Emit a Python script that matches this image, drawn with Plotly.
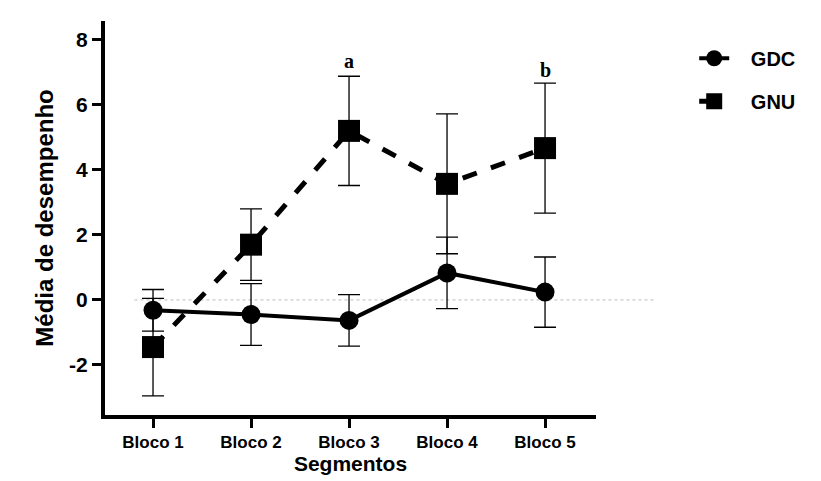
import plotly.graph_objects as go

categories = ["Bloco 1", "Bloco 2", "Bloco 3", "Bloco 4", "Bloco 5"]
x_pos = [1, 2, 3, 4, 5]
gdc_mean = [-0.32, -0.45, -0.63, 0.83, 0.24]
gdc_err = [0.64, 0.95, 0.79, 1.10, 1.08]
gnu_mean = [-1.45, 1.70, 5.20, 3.57, 4.67]
gnu_err = [1.50, 1.10, 1.68, 2.15, 2.00]
sig_labels = [("a", 3, 7.35), ("b", 5, 7.08)]

NB = "\u00a0"
fig = go.Figure()
fig.add_trace(go.Scatter(
    x=x_pos, y=gdc_mean, name=NB * 3 + "<b>GDC</b>", mode="lines+markers",
    legendgroup="gdc",
    line=dict(color="black", width=4),
    marker=dict(symbol="circle", size=19, color="black"),
    error_y=dict(type="data", array=gdc_err, visible=True, color="black", thickness=1.3, width=11),
))
fig.add_trace(go.Scatter(
    x=x_pos, y=gnu_mean, name=NB * 3 + "<b>GNU</b>", mode="lines+markers",
    legendgroup="gnu",
    line=dict(color="black", width=5, dash="dash"),
    marker=dict(symbol="square", size=22, color="black"),
    error_y=dict(type="data", array=gnu_err, visible=True, color="black", thickness=1.3, width=11),
))

for txt, xv, yv in sig_labels:
    fig.add_annotation(x=xv, y=yv, text=f"<b>{txt}</b>", showarrow=False,
                       font=dict(family="Liberation Serif, Times New Roman, serif", size=20, color="black"))

# faint dotted zero line
fig.add_shape(type="line", xref="paper", yref="y", x0=0.06, x1=1.12, y0=0, y1=0,
              line=dict(color="#bbbbbb", width=1, dash="dot"), layer="below")

fig.update_layout(
    width=821, height=481,
    margin=dict(l=97, r=233, t=13, b=74),
    plot_bgcolor="white", paper_bgcolor="white",
    font=dict(family="Liberation Sans, Arial, sans-serif", color="black"),
    showlegend=True,
    legend=dict(x=1.20, y=0.955, xanchor="left", yanchor="top",
                font=dict(size=20, family="Liberation Sans, Arial, sans-serif", color="black"),
                bgcolor="rgba(0,0,0,0)", tracegroupgap=14, itemsizing="trace"),
    xaxis=dict(
        range=[0.51, 5.52], tickmode="array", tickvals=x_pos,
        ticktext=[f"<b>{c}</b>" for c in categories],
        showline=True, linecolor="black", linewidth=4,
        ticks="outside", ticklen=9, tickwidth=3, tickcolor="black",
        showgrid=False, zeroline=False, automargin=False,
        tickfont=dict(size=17),
        title=dict(text="<b>Segmentos</b>", font=dict(size=21), standoff=2),
    ),
    yaxis=dict(
        range=[-3.54, 8.58], tickmode="array", tickvals=[-2, 0, 2, 4, 6, 8],
        ticktext=["<b>-2</b>", "<b>0</b>", "<b>2</b>", "<b>4</b>", "<b>6</b>", "<b>8</b>"],
        showline=True, linecolor="black", linewidth=4,
        ticks="outside", ticklen=9, tickwidth=3, tickcolor="black",
        showgrid=False, zeroline=False, automargin=False,
        tickfont=dict(size=21),
        title=dict(text="<b>Média de desempenho</b>", font=dict(size=24), standoff=10),
    ),
)

fig.write_html("out.html")
